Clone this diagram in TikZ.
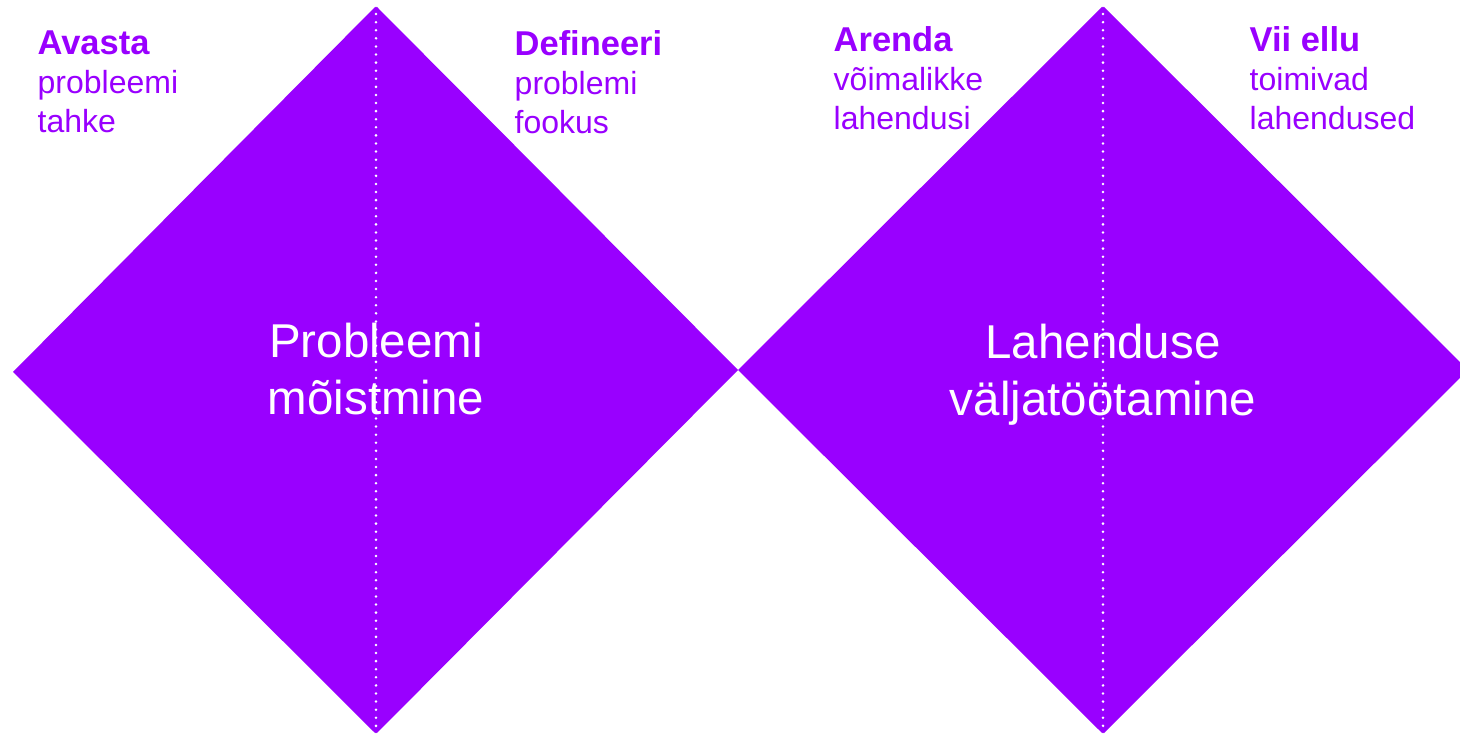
\documentclass[tikz,border=0pt]{standalone}
\usepackage{fontspec}
\setmainfont{Liberation Sans}
\usepackage{tikz}

\definecolor{dvpurple}{HTML}{9900FF}

\begin{document}
\begin{tikzpicture}[x=0.01cm,y=-0.01cm,
		phase/.style={anchor=north west,align=left,inner sep=0pt,text=dvpurple,font=\fontsize{9.1}{11.1}\selectfont},
		stage/.style={align=center,inner sep=0pt,text=white,font=\fontsize{13.5}{16.2}\selectfont}]
				\useasboundingbox (0,0) rectangle (1460,734);
				\clip (0,0) rectangle (1460,734);
				% the two diamonds
				\fill[dvpurple] (13,372)--(376,6)--(738,370)--(376,734)--cycle;
				\fill[dvpurple] (738,370)--(1103,6)--(1468,370)--(1103,734)--cycle;
				\coordinate (topL) at (376,6);
				\coordinate (botL) at (376,734);
				\coordinate (topR) at (1103,6);
				\coordinate (botR) at (1103,734);
				\draw[white,line width=0.8pt,line cap=round,dash pattern=on 0pt off 2.3pt] (topL)--(botL);
				\draw[white,line width=0.8pt,line cap=round,dash pattern=on 0pt off 2.3pt] (topR)--(botR);
				% phase labels
				\node[phase] (avasta) at (37,30) {{\bfseries\fontsize{9.8}{11}\selectfont Avasta}\\probleemi\\tahke};
				\node[phase] (defineeri) at (514,30) {{\bfseries\fontsize{9.8}{11}\selectfont Defineeri}\\problemi\\fookus};
				\node[phase] (arenda) at (833,26) {{\bfseries\fontsize{9.8}{11}\selectfont Arenda}\\võimalikke\\lahendusi};
				\node[phase] (viiellu) at (1249,26) {{\bfseries\fontsize{9.8}{11}\selectfont Vii ellu}\\toimivad\\lahendused};
				% diamond titles
				\node[stage] (problem) at (376,369) {Probleemi\\mõistmine};
				\node[stage] (solution) at (1103,375) {Lahenduse\\väljatöötamine};
			\end{tikzpicture}
\end{document}
